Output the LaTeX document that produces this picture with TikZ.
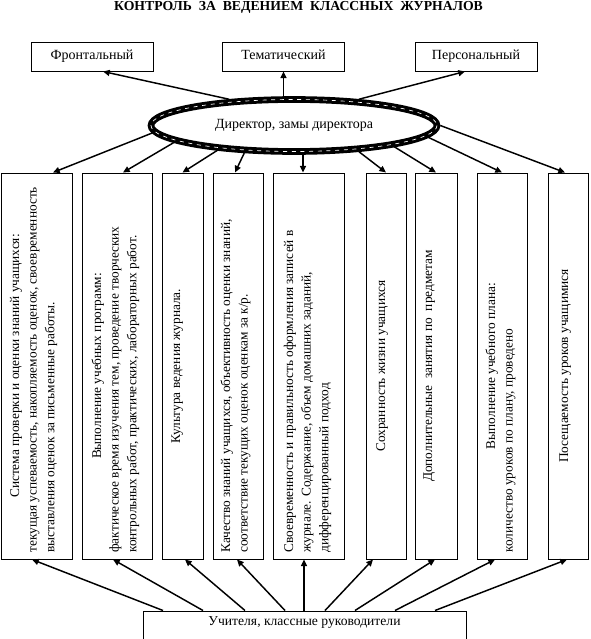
\documentclass[tikz,border=0pt]{standalone}
\usepackage{fontspec}
\setmainfont{Liberation Serif}
\usetikzlibrary{arrows.meta,calc,shapes.geometric}
\newlength{\colw}\setlength{\colw}{280pt}
\newcommand{\ctrline}[1]{\makebox[\colw][c]{\strut#1}}
\newcommand{\lftline}[1]{\makebox[\colw][l]{\strut#1}}
\tikzset{
  txt/.style={font=\fontsize{10.5}{13}\selectfont},
  box/.style={draw, line width=0.75pt, inner sep=0pt, txt},
  topbox/.style={box, minimum width=91.5pt, minimum height=21.75pt, text height=7pt, text depth=3pt},
  colbox/.style={draw, line width=0.75pt, inner sep=0pt, minimum height=289.5pt},
  coltxt/.style={rotate=90, anchor=north, inner sep=0pt, align=left, font=\fontsize{10}{13.2}\selectfont},
  arr/.style={line width=1.1pt, -{Triangle[length=5pt,width=4.5pt]}},
}
\begin{document}
\begin{tikzpicture}[x=0.75pt,y=-0.75pt]
\useasboundingbox (0,0) rectangle (591,639);
\clip (0,0) rectangle (591,639);
% title
\node[font=\bfseries\fontsize{10.3}{13}\selectfont, inner sep=0pt] (title) at (298.5,7.5)
  {КОНТРОЛЬ\ \ ЗА\ \ ВЕДЕНИЕМ\ \ КЛАССНЫХ\ \ ЖУРНАЛОВ};
% top boxes
\node[topbox] (front) at (92,56.5) {Фронтальный};
\node[topbox] (tema) at (283.5,56.5) {Тематический};
\node[topbox] (pers) at (476,56.5) {Персональный};
% ellipse
\node[draw, ellipse, line width=5pt, minimum width=214.5pt, minimum height=39pt, inner sep=0pt, txt] (ell) at (294,125.5) {Директор, замы директора};
\draw[white, line width=0.5pt, dash pattern=on 3pt off 3.5pt] (ell.center) ellipse [x radius=143, y radius=26];
% columns
\node[colbox, minimum width=53.25pt] (c1) at (36.5,366) {};
\node[colbox, minimum width=52.5pt] (c2) at (117,366) {};
\node[colbox, minimum width=30.75pt] (c3) at (182.5,366) {};
\node[colbox, minimum width=37.5pt] (c4) at (238,366) {};
\node[colbox, minimum width=53.25pt] (c5) at (308.5,366) {};
\node[colbox, minimum width=30pt] (c6) at (386,366) {};
\node[colbox, minimum width=31.5pt] (c7) at (436,366) {};
\node[colbox, minimum width=37.5pt] (c8) at (502,366) {};
\node[colbox, minimum width=30pt] (c9) at (568,366) {};
% column texts
\node[coltxt] (t1) at ($(c1.west)+(6,0)$) {\ctrline{Система проверки и оценки знаний учащихся:}\\
  \lftline{текущая успеваемость, накопляемость оценок, своевременность}\\
  \lftline{выставления оценок за письменные работы.}};
\node[coltxt] (t2) at ($(c2.west)+(7,0)$) {\ctrline{Выполнение учебных программ:}\\
  \lftline{фактическое время изучения тем, проведение творческих}\\
  \lftline{контрольных работ, практических, лабораторных работ.}};
\node[coltxt] (t3) at ($(c3.west)+(6,0)$) {\ctrline{Культура ведения журнала.}};
\node[coltxt] (t4) at ($(c4.west)+(5,0)$) {\lftline{Качество знаний учащихся, объективность оценки знаний,}\\
  \lftline{соответствие текущих оценок оценкам за к/р.}};
\node[coltxt] (t5) at ($(c5.west)+(8,0)$) {\lftline{Своевременность и правильность оформления записей в}\\
  \lftline{журнале. Содержание, объем домашних заданий,}\\
  \lftline{дифференцированный подход}};
\node[coltxt] (t6) at ($(c6.west)+(7,0)$) {\ctrline{Сохранность жизни учащихся}};
\node[coltxt] (t7) at ($(c7.west)+(5,0)$) {\ctrline{Дополнительные\ \ занятия по\ \ предметам}};
\node[coltxt] (t8) at ($(c8.west)+(6,0)$) {\ctrline{Выполнение учебного плана:}\\
  \lftline{количество уроков по плану, проведено}};
\node[coltxt] (t9) at ($(c9.west)+(8,0)$) {\ctrline{Посещаемость уроков учащимися}};
% teachers box
\node[draw, line width=0.75pt, inner sep=0pt, minimum width=242.25pt, minimum height=36.75pt] (teach) at (304.5,635.5) {};
\node[font=\fontsize{10.2}{13}\selectfont, inner sep=0pt] (teachtxt) at (304.5,623) {Учителя, классные руководители};
% arrows to top boxes
\draw[arr] (ell.158.3) -- ($(front.south)+(11,0)$);
\draw[arr] (ell.north -| tema.south) -- (tema.south);
\draw[arr] (ell.22) -- ($(pers.south)+(-11,0)$);
% arrows ellipse -> columns
\draw[arr] (ell.183.4) -- ($(c1.north)+(16.5,0)$);
\draw[arr] (ell.188.2) -- ($(c2.north)+(6,0)$);
\draw[arr] (ell.198.8) -- (c3.north);
\draw[arr] (ell.209.6) -- ($(c4.north)+(-3,0)$);
\draw[arr] ($(ell.south)+(9,0)$) -- ($(c5.north)+(-5.5,0)$);
\draw[arr] (ell.338.8) -- (c6.north);
\draw[arr] (ell.348.7) -- (c7.north);
\draw[arr] (ell.355.3) -- (c8.north);
\draw[arr] (ell.east) -- ($(c9.north)+(-3,0)$);
% arrows teachers -> columns
\draw[arr] ($(teach.north)+(-141.5,0)$) -- ($(c1.south)+(-4.5,0)$);
\draw[arr] ($(teach.north)+(-101.5,0)$) -- ($(c2.south)+(-4,0)$);
\draw[arr] ($(teach.north)+(-59.5,0)$) -- ($(c3.south)+(2.5,0)$);
\draw[arr] ($(teach.north)+(-19.5,0)$) -- ($(c4.south)+(-1,0)$);
\draw[arr] ($(teach.north)+(-0.5,0)$) -- ($(c5.south)+(-4.5,0)$);
\draw[arr] ($(teach.north)+(20.5,0)$) -- ($(c6.south)+(-13,0)$);
\draw[arr] ($(teach.north)+(50.5,0)$) -- ($(c7.south)+(-1,0)$);
\draw[arr] ($(teach.north)+(90.5,0)$) -- ($(c8.south)+(-7,0)$);
\draw[arr] ($(teach.north)+(130.5,0)$) -- ($(c9.south)+(-1,0)$);
\end{tikzpicture}
\end{document}
